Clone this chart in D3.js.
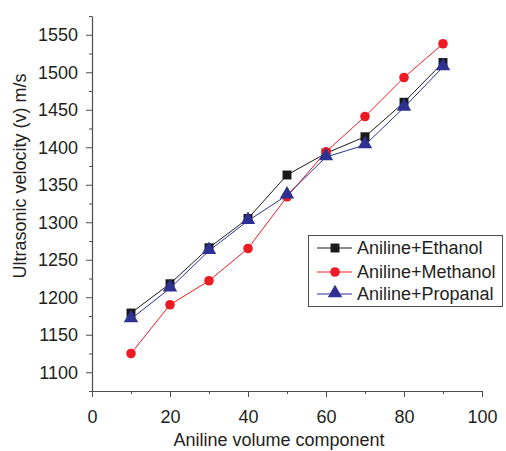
<!DOCTYPE html>
<html>
<head>
<meta charset="utf-8">
<script src="https://cdn.jsdelivr.net/npm/d3@7"></script>
<style>
  body { margin: 0; background: #fff; }
  text { font-family: "Liberation Sans", Arial, sans-serif; fill: #231f20; }
</style>
</head>
<body>
<script>
// chart data
var volume = [10, 20, 30, 40, 50, 60, 70, 80, 90];
var ethanol = [1179, 1218, 1266, 1305, 1363, 1392, 1414, 1460, 1513];
var methanol = [1125, 1190, 1222, 1265, 1334, 1394, 1441, 1493, 1538];
var propanal = [1171, 1212, 1262, 1302, 1336, 1387, 1403, 1453, 1507];
var seriesNames = ["Aniline+Ethanol", "Aniline+Methanol", "Aniline+Propanal"];
var xTicks = [0, 20, 40, 60, 80, 100];
var yTicks = [1100, 1150, 1200, 1250, 1300, 1350, 1400, 1450, 1500, 1550];

var w = 506, h = 451;
var axisColor = "#4d4d4d";

var svg = d3.select("body")
  .append("svg")
  .attr("width", w)
  .attr("height", h);

// scales
var x = d3.scaleLinear().domain([0, 100]).range([92, 482]);
var y = d3.scaleLinear().domain([1075, 1575]).range([391, 16]);

// minor ticks first, majors drawn with labels
var xMinor = d3.range(10, 100, 20);
var yMinor = d3.range(1075, 1576, 50);

svg.append("g")
  .attr("transform", "translate(0," + y(1075) + ")")
  .call(d3.axisBottom(x).tickValues(xMinor).tickSize(3).tickFormat(""))
  .call(function(g){ g.select(".domain").remove(); })
  .selectAll("line").attr("stroke", axisColor);

svg.append("g")
  .attr("transform", "translate(" + x(0) + ",0)")
  .call(d3.axisLeft(y).tickValues(yMinor).tickSize(3).tickFormat(""))
  .call(function(g){ g.select(".domain").remove(); })
  .selectAll("line").attr("stroke", axisColor);

var xAxis = svg.append("g")
  .attr("transform", "translate(0," + y(1075) + ")")
  .call(d3.axisBottom(x).tickValues(xTicks).tickSize(6).tickSizeOuter(0).tickPadding(13));
xAxis.select(".domain").attr("stroke", axisColor).attr("stroke-width", 1.2);
xAxis.selectAll("line").attr("stroke", axisColor);
xAxis.selectAll("text").style("font-size", "18px").attr("fill", "#231f20");

var yAxis = svg.append("g")
  .attr("transform", "translate(" + x(0) + ",0)")
  .call(d3.axisLeft(y).tickValues(yTicks).tickFormat(d3.format("d")).tickSize(6).tickSizeOuter(0).tickPadding(8));
yAxis.select(".domain").attr("stroke", axisColor).attr("stroke-width", 1.2);
yAxis.selectAll("line").attr("stroke", axisColor);
yAxis.selectAll("text").style("font-size", "18px").attr("fill", "#231f20");

// axis titles
svg.append("text")
  .attr("x", 279)
  .attr("y", 446)
  .attr("text-anchor", "middle")
  .style("font-size", "18px")
  .text("Aniline volume component");

svg.append("text")
  .attr("transform", "translate(26," + 176 + ") rotate(-90)")
  .attr("text-anchor", "middle")
  .style("font-size", "18px")
  .text("Ultrasonic velocity (v) m/s");

// series
var series = [
  { name: seriesNames[0], values: ethanol, color: "#1a1a1a", shape: d3.symbolSquare, size: 80 },
  { name: seriesNames[1], values: methanol, color: "#ed1c24", shape: d3.symbolCircle, size: 72 },
  { name: seriesNames[2], values: propanal, color: "#2e3192", shape: d3.symbolTriangle, size: 90 }
];

var line = d3.line()
  .x(function(d){ return x(d[0]); })
  .y(function(d){ return y(d[1]); });

series.forEach(function(s){
  var pts = volume.map(function(v, i){ return [v, s.values[i]]; });
  svg.append("path")
    .datum(pts)
    .attr("d", line)
    .attr("fill", "none")
    .attr("stroke", s.color)
    .attr("stroke-width", 1);
  svg.selectAll(null)
    .data(pts)
    .enter()
    .append("path")
    .attr("d", d3.symbol().type(s.shape).size(s.size))
    .attr("transform", function(d){
      var dy = s.shape === d3.symbolTriangle ? -1 : 0;
      return "translate(" + x(d[0]) + "," + (y(d[1]) + dy) + ")";
    })
    .attr("fill", s.color);
});

// legend
var legend = svg.append("g").attr("class", "legend");
legend.append("rect")
  .attr("x", 308.5)
  .attr("y", 235.5)
  .attr("width", 194)
  .attr("height", 71)
  .attr("fill", "#fff")
  .attr("stroke", "#4d4d4d")
  .attr("stroke-width", 1);

var rowY = [248, 272, 294];
series.forEach(function(s, i){
  var g = legend.append("g").attr("transform", "translate(0," + rowY[i] + ")");
  g.append("line")
    .attr("x1", 317).attr("x2", 352)
    .attr("y1", 0).attr("y2", 0)
    .attr("stroke", s.color)
    .attr("stroke-width", 1);
  g.append("path")
    .attr("d", d3.symbol().type(s.shape).size(s.size))
    .attr("transform", "translate(335," + (s.shape === d3.symbolTriangle ? -1 : 0) + ")")
    .attr("fill", s.color);
  g.append("text")
    .attr("x", 357)
    .attr("y", 6)
    .style("font-size", "18px")
    .text(s.name);
});
</script>
</body>
</html>
